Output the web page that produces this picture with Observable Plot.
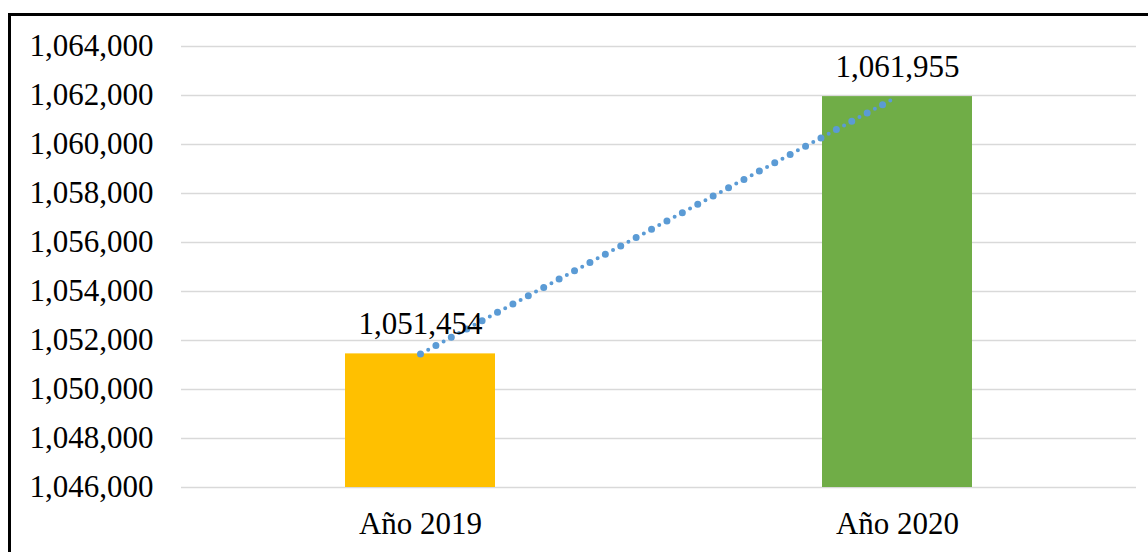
<!DOCTYPE html>
<html>
<head>
<meta charset="utf-8">
<script src="https://cdn.jsdelivr.net/npm/d3@7"></script>
<script src="https://cdn.jsdelivr.net/npm/@observablehq/plot@0.6"></script>
<style>
  html, body { margin: 0; padding: 0; background: #fff; overflow: hidden; }
  #wrap { position: relative; width: 1148px; height: 552px; overflow: hidden; }
  #frame { position: absolute; left: 8px; top: 13px; width: 1200px; height: 600px; border: 3px solid #000; box-sizing: border-box; pointer-events: none; }
  #chart svg { display: block; }
</style>
</head>
<body>
<div id="wrap">
  <div id="chart"></div>
  <div id="frame"></div>
</div>
<script>
const categories = ["Año 2019", "Año 2020"];
const values = [1051454, 1061955];
const barColors = ["#FFC000", "#70AD47"];
const yTicks = [1046000, 1048000, 1050000, 1052000, 1054000, 1056000, 1058000, 1060000, 1062000, 1064000];

const data = categories.map((c, i) => ({ cat: c, value: values[i], color: barColors[i] }));
const fmt = d3.format(",");
const font = "Liberation Serif, Times New Roman, serif";

const chart = Plot.plot({
  width: 1148,
  height: 552,
  marginTop: 46,
  marginBottom: 65,
  marginLeft: 181,
  marginRight: 12,
  style: { fontFamily: font, fontSize: "31px", color: "#000", background: "transparent" },
  x: { domain: categories, paddingInner: 0.686, paddingOuter: 0.343, label: null },
  y: { domain: [1046000, 1064000], label: null },
  marks: [
    Plot.gridY(yTicks, { stroke: "#d9d9d9", strokeOpacity: 1, strokeWidth: 1.5 }),
    Plot.barY(data, { x: "cat", y1: 1046000, y2: "value", fill: "color" }),
    Plot.line(data, { x: "cat", y: "value", stroke: "#5B9BD5", strokeWidth: 7, strokeLinecap: "round", strokeDasharray: "0 17.5" }),
    Plot.line(data, { x: "cat", y: "value", stroke: "#5B9BD5", strokeWidth: 4, strokeLinecap: "round", strokeDasharray: "0 17.5", strokeDashoffset: -8.75 }),
    Plot.text(data, { x: "cat", y: "value", text: d => fmt(d.value), dy: -30, lineAnchor: "middle", textAnchor: "middle", fontSize: 31, fill: "#000" }),
    Plot.axisY(yTicks, { tickSize: 0, tickPadding: 28, tickFormat: fmt, fontSize: 31, label: null }),
    Plot.axisX({ tickSize: 0, tickPadding: 24, fontSize: 31, label: null })
  ]
});
document.getElementById("chart").appendChild(chart);
</script>
</body>
</html>
